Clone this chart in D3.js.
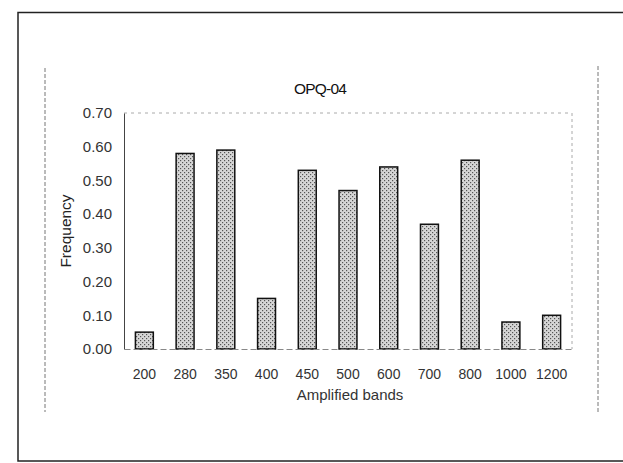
<!DOCTYPE html>
<html><head><meta charset="utf-8">
<script src="https://cdn.jsdelivr.net/npm/d3@7"></script>
<style>body{margin:0;background:#fff}svg{display:block}</style>
</head><body>
<script>
const categories = ["200","280","350","400","450","500","600","700","800","1000","1200"];
const values = [0.05,0.58,0.59,0.15,0.53,0.47,0.54,0.37,0.56,0.08,0.10];
const yTicks = [0,0.1,0.2,0.3,0.4,0.5,0.6,0.7];
const title = "OPQ-04";
const xTitle = "Amplified bands";
const yTitle = "Frequency";

const W=623,H=463;
const svg=d3.select("body").append("svg").attr("width",W).attr("height",H);
const defs=svg.append("defs");
const pat=defs.append("pattern").attr("id","dots").attr("patternUnits","userSpaceOnUse").attr("width",4).attr("height",4);
pat.append("rect").attr("width",4).attr("height",4).attr("fill","#d6d6d6");
pat.append("rect").attr("x",0).attr("y",0).attr("width",1.2).attr("height",1.2).attr("fill","#555");
pat.append("rect").attr("x",2).attr("y",2).attr("width",1.2).attr("height",1.2).attr("fill","#555");

svg.append("rect").attr("x",18).attr("y",12.5).attr("width",610).attr("height",448.5).attr("fill","none").attr("stroke","#222").attr("stroke-width",1.5);
svg.append("line").attr("x1",45).attr("x2",45).attr("y1",68).attr("y2",412).attr("stroke","#777").attr("stroke-dasharray","4,2");
svg.append("line").attr("x1",598).attr("x2",598).attr("y1",66).attr("y2",414).attr("stroke","#777").attr("stroke-dasharray","4,2");

const m={l:124,r:572,t:113,b:349};
const x=d3.scaleBand().domain(categories).range([m.l,m.r]).paddingInner(0.56).paddingOuter(0.28);
const y=d3.scaleLinear().domain([0,0.7]).range([m.b,m.t]);

const font="'Liberation Sans Narrow','Arial Narrow','Liberation Sans',sans-serif";

svg.append("line").attr("x1",m.l).attr("x2",m.r).attr("y1",m.t).attr("y2",m.t).attr("stroke","#aaa").attr("stroke-dasharray","3,4");
svg.append("line").attr("x1",m.r).attr("x2",m.r).attr("y1",m.t).attr("y2",m.b).attr("stroke","#aaa").attr("stroke-dasharray","3,3");

svg.append("g").selectAll("rect").data(values).join("rect")
  .attr("x",(d,i)=>x(categories[i])).attr("width",x.bandwidth())
  .attr("y",d=>y(d)).attr("height",d=>y(0)-y(d))
  .attr("fill","url(#dots)").attr("stroke","#111").attr("stroke-width",1.5);

const ya=svg.append("g").attr("transform",`translate(${m.l},0)`)
  .call(d3.axisLeft(y).tickValues(yTicks).tickFormat(d3.format(".2f")).tickSize(0).tickPadding(12));
ya.select(".domain").attr("stroke","#444").attr("stroke-width",1);
ya.selectAll("text").attr("font-family",font).attr("font-size",15).attr("fill","#333");

const xa=svg.append("g").attr("transform",`translate(0,${m.b})`)
  .call(d3.axisBottom(x).tickSize(0).tickPadding(20));
xa.select(".domain").attr("stroke","#888").attr("stroke-dasharray","6,3");
xa.selectAll("text").attr("font-family",font).attr("font-size",14).attr("fill","#333");

svg.append("text").attr("x",320).attr("y",94).attr("text-anchor","middle")
  .attr("font-family",font).attr("font-size",15.5).attr("letter-spacing",-0.8).attr("fill","#111").text(title);
svg.append("text").attr("x",350).attr("y",400).attr("text-anchor","middle")
  .attr("font-family",font).attr("font-size",15).attr("fill","#333").text(xTitle);
svg.append("text").attr("transform","translate(71,231) rotate(-90)").attr("text-anchor","middle")
  .attr("font-family","'Liberation Sans',Arial,sans-serif").attr("font-size",15.5).attr("fill","#222").text(yTitle);
</script>
</body></html>
